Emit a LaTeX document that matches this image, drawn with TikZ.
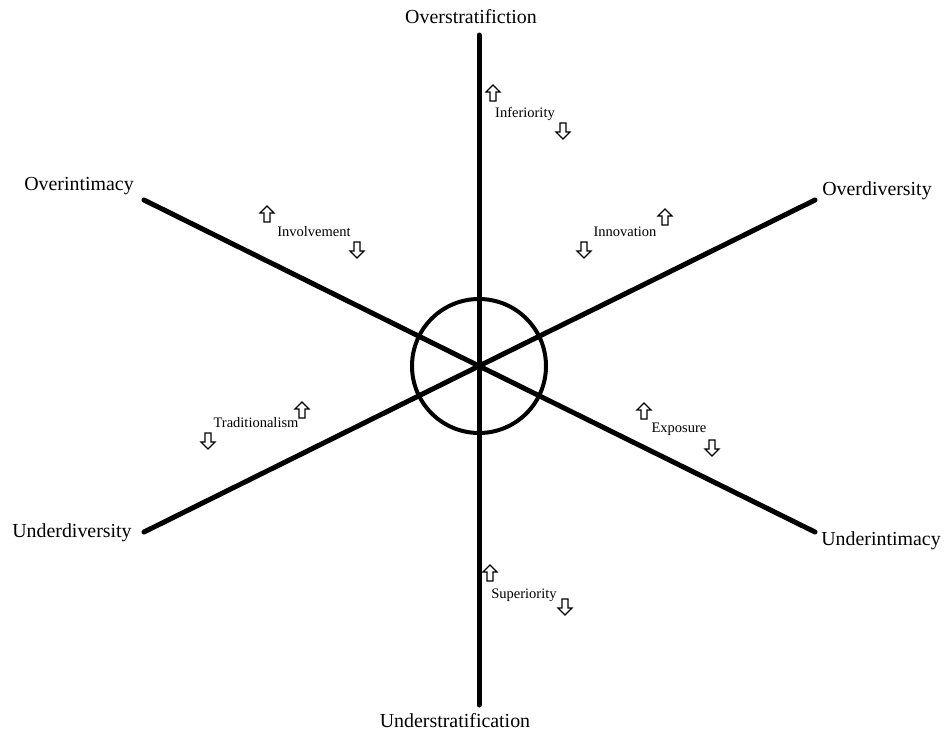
\documentclass[tikz,border=0pt]{standalone}
\usepackage{fontspec}
\setmainfont{Liberation Serif}
\usetikzlibrary{calc}

\tikzset{
  axislabel/.style={inner sep=0pt, font=\fontsize{19.9}{20}\selectfont},
  traitlabel/.style={inner sep=0pt, font=\fontsize{14.5}{15}\selectfont},
  axisline/.style={line width=5pt, line cap=round},
  uparr/.pic={\draw[line width=1.1pt, line join=miter, fill=white] (0,-8) -- (7,-1) -- (3,-1) -- (3,8) -- (-3,8) -- (-3,-1) -- (-7,-1) -- cycle;},
  downarr/.pic={\draw[line width=1.1pt, line join=miter, fill=white] (0,8) -- (7,1) -- (3,1) -- (3,-8) -- (-3,-8) -- (-3,1) -- (-7,1) -- cycle;}
}

\begin{document}
\begin{tikzpicture}[x=1pt, y=-1pt]
\useasboundingbox (0,0) rectangle (945,734);

%CENTRE AND AXIS ENDS
\coordinate (c) at (479,366);
\coordinate (top) at (479,35);
\coordinate (bot) at (479,705);
\coordinate (ul) at (144,200);
\coordinate (ur) at (815,200);
\coordinate (ll) at (144,532);
\coordinate (lr) at (815,532);

%axes
\draw[axisline] (c) -- (top);
\draw[axisline] (c) -- (bot);
\draw[axisline] (c) -- (ul);
\draw[axisline] (c) -- (ur);
\draw[axisline] (c) -- (ll);
\draw[axisline] (c) -- (lr);

%circle
\draw[line width=4pt] (c) circle (67);

%%%%%%%%%%%%%%%%%%%%%%%%%%%%
%axis labels
\node[axislabel] (overstrat) at (471,17) {Overstratifiction};
\node[axislabel] (overint) at (79,186) {Overintimacy};
\node[axislabel] (overdiv) at (877,191) {Overdiversity};
\node[axislabel] (underdiv) at (72,533) {Underdiversity};
\node[axislabel] (underint) at (881,541) {Underintimacy};
\node[axislabel] (understrat) at (455,721) {Understratification};

%%%%%%%%%%%
%trait labels with arrows
\node[traitlabel] (inferiority) at (525,114) {Inferiority};
\pic at (493,93) {uparr};
\pic at (563,131) {downarr};
%%%%%%%%%%%
\node[traitlabel] (involvement) at (314,232) {Involvement};
\pic at (267,214) {uparr};
\pic at (357,250) {downarr};
%%%%%%%%%%%
\node[traitlabel] (innovation) at (625,232) {Innovation};
\pic at (665,217) {uparr};
\pic at (584,250) {downarr};
%%%%%%%%%%%
\node[traitlabel] (tradition) at (256,423) {Traditionalism};
\pic at (302,410) {uparr};
\pic at (208,441) {downarr};
%%%%%%%%%%%
\node[traitlabel] (exposure) at (679,429) {Exposure};
\pic at (644,411) {uparr};
\pic at (712,448) {downarr};
%%%%%%%%%%%
\node[traitlabel] (superiority) at (524,595) {Superiority};
\pic at (490,573) {uparr};
\pic at (565,607) {downarr};
\end{tikzpicture}
\end{document}
